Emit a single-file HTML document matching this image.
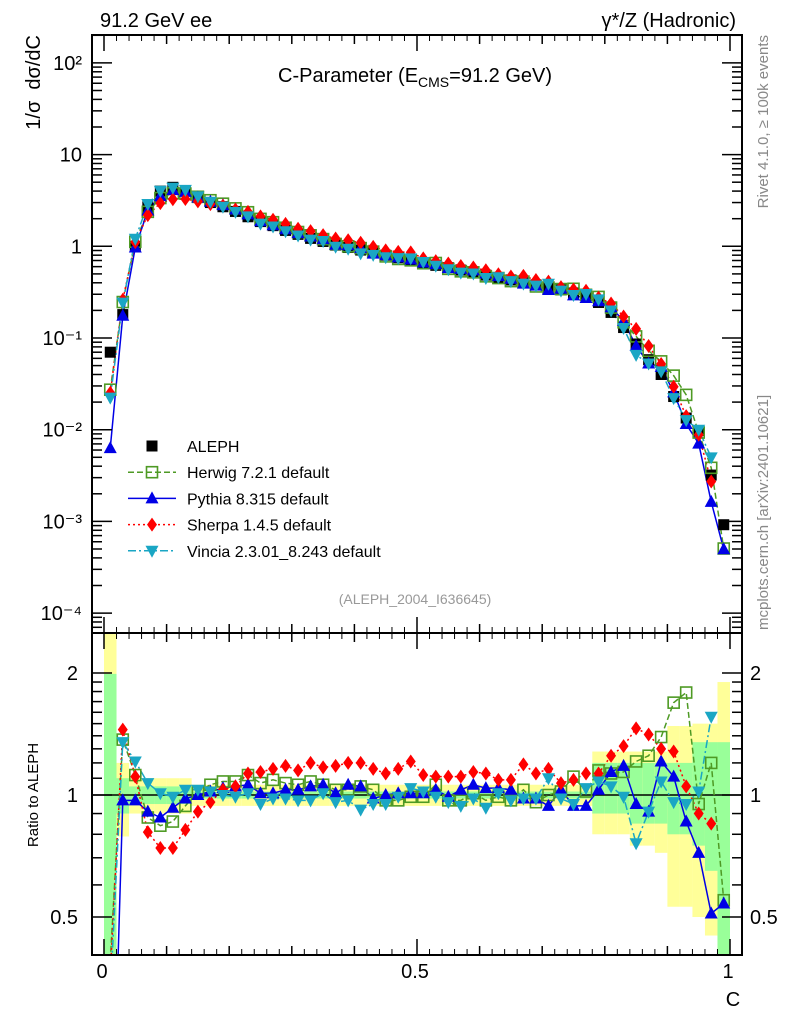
<!DOCTYPE html>
<html><head><meta charset="utf-8"><style>
html,body{margin:0;padding:0;background:#fff;width:786px;height:1024px;overflow:hidden;}
svg{display:block;font-family:"Liberation Sans",sans-serif;}
</style></head><body>
<svg id="chart" width="786" height="1024" viewBox="0 0 786 1024" xmlns="http://www.w3.org/2000/svg">
<defs>
<clipPath id="clipMain"><rect x="92" y="35" width="650" height="598"/></clipPath>
<clipPath id="clipRatio"><rect x="92" y="633" width="650" height="322"/></clipPath>
</defs>
<g id="bands" clip-path="url(#clipRatio)"></g>
<g id="ratioRef"></g>
<g id="mainSeries" clip-path="url(#clipMain)"></g>
<g id="ratioSeries" clip-path="url(#clipRatio)"></g>
<g id="axes"></g>

<text x="100" y="27" font-size="20">91.2 GeV ee</text>
<text x="736" y="27" font-size="20" text-anchor="end">γ*/Z (Hadronic)</text>
<text x="415" y="82" font-size="20" text-anchor="middle">C-Parameter (E<tspan font-size="14" dy="5">CMS</tspan><tspan dy="-5">=91.2 GeV)</tspan></text>
<text transform="translate(40,35) rotate(-90)" font-size="20" text-anchor="end" xml:space="preserve">1/σ  dσ/dC</text>
<text transform="translate(38,795) rotate(-90)" font-size="15" text-anchor="middle">Ratio to ALEPH</text>
<text x="733" y="1006" font-size="20" text-anchor="middle">C</text>
<text transform="translate(768,35) rotate(-90)" font-size="15" fill="#888" text-anchor="end">Rivet 4.1.0, ≥ 100k events</text>
<text transform="translate(768,630) rotate(-90)" font-size="15" fill="#888">mcplots.cern.ch [arXiv:2401.10621]</text>
<text x="415" y="604" font-size="14" fill="#999" text-anchor="middle">(ALEPH_2004_I636645)</text>
<g id="legend"></g>
</svg>
<script>
const binCenters = [0.01,0.03,0.05,0.07,0.09,0.11,0.13,0.15,0.17,0.19,0.21,0.23,0.25,0.27,0.29,0.31,0.33,0.35,0.37,0.39,0.41,0.43,0.45,0.47,0.49,0.51,0.53,0.55,0.57,0.59,0.61,0.63,0.65,0.67,0.69,0.71,0.73,0.75,0.77,0.79,0.81,0.83,0.85,0.87,0.89,0.91,0.93,0.95,0.97,0.99];
const alephValues = [0.07,0.18,1.0,2.7,4.0,4.4,4.0,3.4,3.0,2.7,2.4,2.1,1.86,1.68,1.49,1.35,1.22,1.13,1.03,0.97,0.91,0.85,0.80,0.75,0.71,0.66,0.62,0.585,0.55,0.515,0.485,0.455,0.43,0.40,0.38,0.355,0.335,0.31,0.29,0.244,0.19,0.13,0.086,0.058,0.040,0.023,0.0134,0.0098,0.0032,0.00092];
const herwigRatio = [0.39,1.37,1.12,0.88,0.84,0.86,0.94,1.02,1.06,1.08,1.08,1.12,1.07,1.09,1.07,1.06,1.08,1.06,1.03,1.03,1.05,1.03,0.97,0.97,0.99,0.99,1.06,0.97,0.97,1.01,0.97,0.99,0.97,1.03,0.96,1.0,1.02,1.11,1.02,1.15,1.13,1.14,1.21,1.25,1.39,1.69,1.79,0.95,1.2,0.55];
const pythiaRatio = [0.09,0.97,0.97,0.91,0.88,0.93,0.98,1.0,1.02,1.04,1.05,1.06,1.01,1.01,1.03,1.03,1.05,1.06,1.01,1.06,1.05,0.98,1.0,1.01,1.01,1.01,1.03,0.99,1.03,1.06,1.04,1.04,1.03,0.98,0.98,0.94,1.03,0.94,0.94,1.03,1.14,1.18,0.95,0.91,1.21,1.11,0.86,0.72,0.51,0.54];
const sherpaRatio = [0.36,1.45,1.11,0.81,0.74,0.74,0.82,0.91,0.96,1.03,1.05,1.13,1.14,1.16,1.18,1.15,1.2,1.17,1.18,1.2,1.2,1.16,1.13,1.16,1.21,1.12,1.11,1.11,1.11,1.14,1.13,1.09,1.09,1.19,1.13,1.16,1.07,1.09,1.13,1.13,1.25,1.32,1.46,1.41,1.30,1.28,1.05,0.90,0.85,null];
const vinciaRatio = [0.32,1.35,1.21,1.07,1.01,0.99,1.03,1.03,1.02,1.0,0.99,1.01,0.95,0.98,0.98,0.97,0.97,1.01,0.96,0.97,0.92,0.95,0.95,0.99,1.04,1.02,0.99,0.96,0.94,0.98,0.93,1.01,0.97,0.98,0.98,1.10,0.98,0.95,1.04,1.08,1.05,0.99,0.76,0.91,1.08,0.96,0.95,1.02,1.56,null];
const totalBandHi = [2.6,1.2,1.1,1.1,1.1,1.1,1.1,1.06,1.06,1.06,1.06,1.06,1.06,1.06,1.06,1.06,1.06,1.06,1.06,1.06,1.06,1.06,1.06,1.06,1.06,1.06,1.06,1.06,1.06,1.06,1.06,1.06,1.06,1.06,1.06,1.06,1.06,1.06,1.06,1.28,1.28,1.28,1.28,1.28,1.28,1.48,1.48,1.5,1.5,1.9];
const totalBandLo = [0.3,0.79,0.9,0.9,0.9,0.9,0.9,0.94,0.94,0.94,0.94,0.94,0.94,0.94,0.94,0.94,0.94,0.94,0.94,0.94,0.94,0.94,0.94,0.94,0.94,0.94,0.94,0.94,0.94,0.94,0.94,0.94,0.94,0.94,0.94,0.94,0.94,0.94,0.94,0.80,0.80,0.80,0.75,0.75,0.72,0.53,0.53,0.5,0.45,0.3];
const statBandHi = [1.99,1.10,1.05,1.05,1.05,1.05,1.05,1.02,1.02,1.02,1.02,1.02,1.02,1.02,1.02,1.02,1.02,1.02,1.02,1.02,1.02,1.02,1.02,1.02,1.02,1.02,1.02,1.02,1.02,1.02,1.02,1.02,1.02,1.02,1.02,1.02,1.02,1.02,1.02,1.2,1.2,1.2,1.2,1.2,1.2,1.2,1.2,1.35,1.35,1.35];
const statBandLo = [0.3,0.90,0.95,0.95,0.95,0.95,0.95,0.98,0.98,0.98,0.98,0.98,0.98,0.98,0.98,0.98,0.98,0.98,0.98,0.98,0.98,0.98,0.98,0.98,0.98,0.98,0.98,0.98,0.98,0.98,0.98,0.98,0.98,0.98,0.98,0.98,0.98,0.98,0.98,0.9,0.9,0.9,0.85,0.85,0.85,0.8,0.8,0.75,0.65,0.3];
const binWidth = 0.02;
const mainTickLabels = ["10²","10","1","10⁻¹","10⁻²","10⁻³","10⁻⁴"];
const mainTickValues = [100,10,1,0.1,0.01,0.001,0.0001];
const ratioTickLabels = ["2","1","0.5"];
const ratioTickValues = [2,1,0.5];
const xTickLabels = ["0","0.5","1"];
const xTickValues = [0,0.5,1];

const NS = "http://www.w3.org/2000/svg";
function xs(c){ return 104 + 626*c; }
function ym(v){ return 246.3 - 91.7*Math.log10(v); }
function yr(r){ return 795 - 122*Math.log2(r); }
function mk(tag, attrs, parent){ const e=document.createElementNS(NS,tag); for(const k in attrs) e.setAttribute(k,attrs[k]); parent.appendChild(e); return e; }

const series = [
  {name:"herwig", label:"Herwig 7.2.1 default", ratio:herwigRatio, color:"#4e9a24", dash:"6,3", marker:"osquare"},
  {name:"pythia", label:"Pythia 8.315 default", ratio:pythiaRatio, color:"#0000e6", dash:"", marker:"tri"},
  {name:"sherpa", label:"Sherpa 1.4.5 default", ratio:sherpaRatio, color:"#ff0000", dash:"2,3", marker:"diamond"},
  {name:"vincia", label:"Vincia 2.3.01_8.243 default", ratio:vinciaRatio, color:"#1aa6c4", dash:"8,3,2,3", marker:"itri"}
];
function marker(g, type, x, y, color){
  let e;
  if(type==="square") e=mk("rect",{x:x-5.5,y:y-5.5,width:11,height:11,fill:"#000"},g);
  else if(type==="osquare") e=mk("rect",{x:x-5.5,y:y-5.5,width:11,height:11,fill:"none",stroke:color,"stroke-width":1.6},g);
  else if(type==="tri") e=mk("polygon",{points:`${x},${y-7} ${x-6.5},${y+5} ${x+6.5},${y+5}`,fill:color},g);
  else if(type==="itri") e=mk("polygon",{points:`${x},${y+7} ${x-6.5},${y-5} ${x+6.5},${y-5}`,fill:color},g);
  else e=mk("polygon",{points:`${x},${y-7} ${x-5},${y} ${x},${y+7} ${x+5},${y}`,fill:color},g);
  return e;
}

const bandG=document.getElementById("bands");
binCenters.forEach((c,i)=>{
  const x0=xs(c-binWidth/2), w=xs(c+binWidth/2)-x0;
  const r1=mk("rect",{x:x0,y:yr(totalBandHi[i]),width:w,height:yr(totalBandLo[i])-yr(totalBandHi[i]),fill:"#ffff99"},bandG);
  
  
  const r2=mk("rect",{x:x0,y:yr(statBandHi[i]),width:w,height:yr(statBandLo[i])-yr(statBandHi[i]),fill:"#99ff99"},bandG);
  
  
});
const refLine=mk("line",{x1:92,x2:742,y1:yr(1),y2:yr(1),stroke:"#000","stroke-width":1.5},document.getElementById("ratioRef"));



const mainG=document.getElementById("mainSeries"), ratioG=document.getElementById("ratioSeries");
series.forEach(s=>{
  const pm=[], pr=[];
  binCenters.forEach((c,i)=>{ if(s.ratio[i]!=null){ pm.push(`${xs(c)},${ym(alephValues[i]*s.ratio[i])}`); pr.push(`${xs(c)},${yr(s.ratio[i])}`);} });
  const l1=mk("polyline",{points:pm.join(" "),fill:"none",stroke:s.color,"stroke-width":1.5,"stroke-dasharray":s.dash},mainG);
  
  
  const l2=mk("polyline",{points:pr.join(" "),fill:"none",stroke:s.color,"stroke-width":1.5,"stroke-dasharray":s.dash},ratioG);
  
  
});
binCenters.forEach((c,i)=>{
  const a=marker(mainG,"square",xs(c),ym(alephValues[i]));
  
  
});
series.forEach(s=>{
  binCenters.forEach((c,i)=>{
    if(s.ratio[i]==null) return;
    const m1=marker(mainG,s.marker,xs(c),ym(alephValues[i]*s.ratio[i]),s.color);
    
    
    const m2=marker(ratioG,s.marker,xs(c),yr(s.ratio[i]),s.color);
    
    
  });
});

const ax=document.getElementById("axes");
const f1=mk("rect",{x:92,y:35,width:650,height:598,fill:"none",stroke:"#000","stroke-width":2},ax);


const f2=mk("rect",{x:92,y:633,width:650,height:322,fill:"none",stroke:"#000","stroke-width":2},ax);


for(let k=0;k<=10;k++){
  const c=k/10, len=(k%5===0)?16:9;
  [[35,1],[633,-1],[633,1],[955,-1]].forEach(([y0,d])=>{
    const t=mk("line",{x1:xs(c),x2:xs(c),y1:y0,y2:y0+d*len,stroke:"#000","stroke-width":1.5},ax);
    
    
  });
  for(let m=1;m<5 && k<10;m++){
    const cc=c+m*0.02;
    [[35,1],[633,-1],[633,1],[955,-1]].forEach(([y0,d])=>{
      const t=mk("line",{x1:xs(cc),x2:xs(cc),y1:y0,y2:y0+d*6,stroke:"#000","stroke-width":1},ax);
      
      
    });
  }
}
for(let e=-5;e<=2;e++){
  for(let m=1;m<10;m++){
    const v=m*Math.pow(10,e), y=ym(v);
    if(y<35||y>633) continue;
    const len=m===1?20:10;
    [[92,1],[742,-1]].forEach(([x0,d])=>{
      const t=mk("line",{x1:x0,x2:x0+d*len,y1:y,y2:y,stroke:"#000","stroke-width":1.5},ax);
      
      
    });
  }
}
mainTickValues.forEach((v,i)=>{
  const t=mk("text",{x:82,y:ym(v)+7,"font-size":20,"text-anchor":"end"},ax);
  t.textContent=mainTickLabels[i];
  
  
});
[0.4,0.5,0.6,0.7,0.8,0.9,1,1.1,1.2,1.3,1.4,1.5,1.6,1.7,1.8,1.9,2].forEach(r=>{
  const y=yr(r); if(y<633||y>955) return;
  const big=(r===0.5||r===1||r===2);
  [[92,1],[742,-1]].forEach(([x0,d])=>{
    const t=mk("line",{x1:x0,x2:x0+d*(big?20:10),y1:y,y2:y,stroke:"#000","stroke-width":1.5},ax);
    
    
  });
});
ratioTickValues.forEach((v,i)=>{
  const t=mk("text",{x:78,y:yr(v)+7,"font-size":20,"text-anchor":"end"},ax);
  t.textContent=ratioTickLabels[i];
  
  
  const t2=mk("text",{x:750,y:yr(v)+7,"font-size":20},ax);
  t2.textContent=ratioTickLabels[i];
  
  
});
xTickValues.forEach((v,i)=>{
  const t=mk("text",{x:xs(v)-2,y:978,"font-size":20,"text-anchor":"middle"},ax);
  t.textContent=xTickLabels[i];
  
  
});

const lg=document.getElementById("legend");
const rows=[{label:"ALEPH",marker:"square",color:"#000",dash:null}].concat(series);
rows.forEach((s,i)=>{
  const y=446+i*26.2;
  const g=mk("g",{},lg);
  
  
  if(s.dash!==null) mk("line",{x1:128,x2:176,y1:y,y2:y,stroke:s.color,"stroke-width":1.5,"stroke-dasharray":s.dash},g);
  marker(g,s.marker,152,y,s.color);
  const t=mk("text",{x:187,y:y+6,"font-size":16},g);
  t.textContent=s.label;
});
</script>
</body></html>
